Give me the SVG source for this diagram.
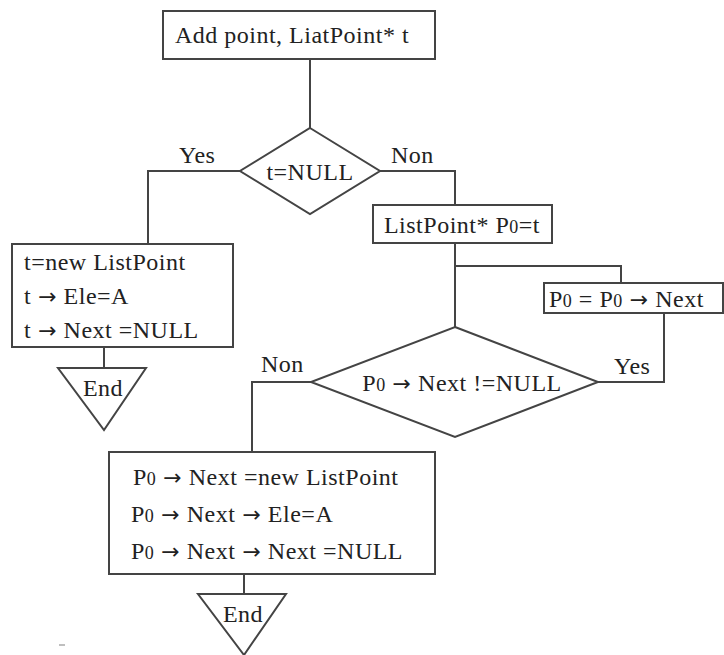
<svg xmlns="http://www.w3.org/2000/svg" width="724" height="655" viewBox="0 0 724 655">
<style>
.s{fill:#fff;stroke:#444;stroke-width:2}
.c{fill:none;stroke:#444;stroke-width:2}
text{font-family:"Liberation Serif","Times New Roman","DejaVu Serif",serif;font-size:24px;letter-spacing:0.5px;fill:#222}
.m{text-anchor:middle}
.sub{font-size:18px}
.ar{font-family:"DejaVu Sans",sans-serif;font-size:22px;letter-spacing:0}
</style>
<rect width="724" height="655" fill="#fff"/>
<g id="connectors">
<polyline class="c" points="310,59 310,128"/>
<polyline class="c" points="240,171 148,171 148,244"/>
<polyline class="c" points="380,171 455,171 455,205"/>
<polyline class="c" points="455,243 455,327"/>
<polyline class="c" points="455,266 621,266 621,283"/>
<polyline class="c" points="664,313 664,382 598,382"/>
<polyline class="c" points="311,382 252,382 252,452"/>
<polyline class="c" points="104,347 104,368"/>
<polyline class="c" points="244,574 244,594"/>
</g>
<g id="start">
<rect class="s" x="163" y="11" width="272" height="48"/>
<text class="m" x="292" y="43">Add point, LiatPoint* t</text>
</g>
<g id="dec1">
<polygon class="s" points="310,128 380,171 310,214 240,171"/>
<text class="m" x="310" y="180">t=NULL</text>
</g>
<text x="179" y="163">Yes</text>
<text x="391" y="163">Non</text>
<g id="init">
<rect class="s" x="12" y="244" width="221" height="103"/>
<text x="24" y="270">t=new ListPoint</text>
<text x="24" y="304">t<tspan class="ar"> → </tspan>Ele=A</text>
<text x="24" y="338">t<tspan class="ar"> → </tspan>Next =NULL</text>
</g>
<g id="end1">
<polygon class="s" points="58,368 146,368 104,430"/>
<text class="m" x="103" y="396">End</text>
</g>
<g id="p0">
<rect class="s" x="373" y="205" width="179" height="38"/>
<text class="m" x="462" y="233">ListPoint* P<tspan class="sub">0</tspan>=t</text>
</g>
<g id="adv">
<rect class="s" x="544" y="283" width="179" height="30"/>
<text x="549" y="307">P<tspan class="sub">0</tspan> = P<tspan class="sub">0</tspan><tspan class="ar"> → </tspan>Next</text>
</g>
<g id="dec2">
<polygon class="s" points="455,327 598,382 455,437 311,382"/>
<text class="m" x="462" y="391">P<tspan class="sub">0</tspan><tspan class="ar"> → </tspan>Next !=NULL</text>
</g>
<text x="261" y="372">Non</text>
<text x="614" y="374">Yes</text>
<g id="append">
<rect class="s" x="109" y="452" width="326" height="122"/>
<text x="133" y="485">P<tspan class="sub">0</tspan><tspan class="ar"> → </tspan>Next =new ListPoint</text>
<text x="131" y="522">P<tspan class="sub">0</tspan><tspan class="ar"> → </tspan>Next<tspan class="ar"> → </tspan>Ele=A</text>
<text x="131" y="559">P<tspan class="sub">0</tspan><tspan class="ar"> → </tspan>Next<tspan class="ar"> → </tspan>Next =NULL</text>
</g>
<g id="end2">
<polygon class="s" points="198,594 286,594 244,655"/>
<text class="m" x="243" y="622">End</text>
</g>
<line x1="59" y1="645" x2="65" y2="645" stroke="#aaa" stroke-width="1.5"/>
</svg>
